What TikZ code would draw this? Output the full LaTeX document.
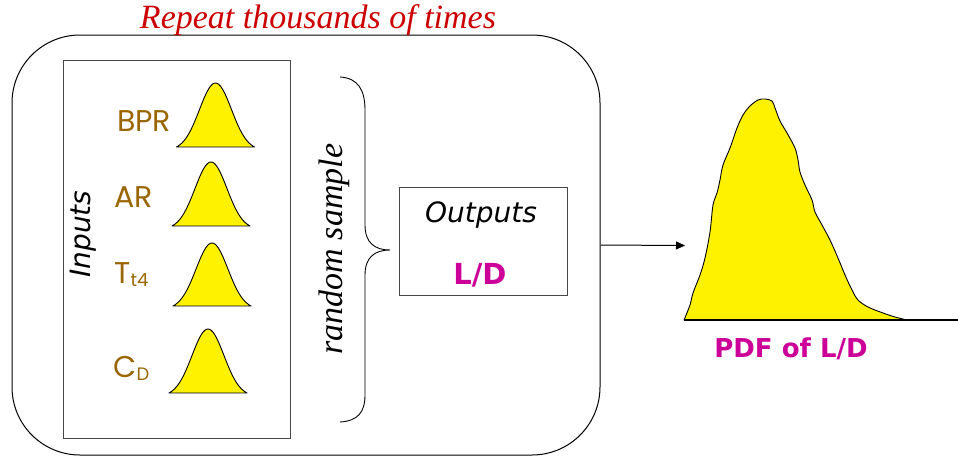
\documentclass[tikz,border=0pt]{standalone}
\usepackage{fontspec}
\usetikzlibrary{arrows.meta}
\newfontfamily\labelfont{Poppins}
\newfontfamily\verdfont{DejaVu Sans}
\newfontfamily\seriffont{Liberation Serif}
\definecolor{inbrown}{RGB}{153,102,0}
\definecolor{ldmagenta}{RGB}{204,0,153}
\definecolor{titlered}{RGB}{204,0,0}
\definecolor{boxgray}{RGB}{70,70,70}
% bell-shaped density: centre x, base y, height
\newcommand\bellcurve[3]{%
  \draw[bell] plot[domain=-39:39,samples=60,smooth]
    ({#1+\x},{#2-#3*(exp(-\x*\x/512)-0.051)/0.949}) -- cycle;}
\begin{document}
\begin{tikzpicture}[x=1pt,y=-1pt,
  bell/.style={draw=black,fill=yellow,line width=0.9pt,line join=round},
  frame/.style={draw=black,line width=1pt},
  inlab/.style={text=inbrown,font=\labelfont\fontsize{30}{34}\selectfont,inner sep=0pt,anchor=base},
  ]
\useasboundingbox (0,0) rectangle (958,456);

% loop frame and title
\node[frame,rounded corners=68pt,minimum width=588pt,minimum height=420pt,inner sep=0pt]
  (loop) at (306,245) {};
\node[text=titlered,font=\seriffont\itshape\fontsize{34}{38}\selectfont,anchor=base,inner sep=0pt]
  (title) at (318,28) {Repeat thousands of times};

% input distributions
\node[draw=boxgray,line width=1pt,minimum width=227pt,minimum height=378pt,inner sep=0pt]
  (inputs) at (176.5,249.3) {};
\node[rotate=90,anchor=base,inner sep=0pt,font=\verdfont\itshape\fontsize{28}{32}\selectfont]
  (inlabel) at (90,234) {Inputs};

\node[inlab] (bpr) at (144,131.5) {BPR};
\node[inlab] (ar) at (134,207) {AR};
\node[inlab] (tt4) at (131.5,283) {T{\fontsize{18}{20}\selectfont\raisebox{-3pt}{t4}}};
\node[inlab] (cd) at (131.5,377) {C{\fontsize{18}{20}\selectfont\raisebox{-3pt}{D}}};

\bellcurve{215.5}{147}{64}
\bellcurve{211}{226}{64}
\bellcurve{212}{306}{63}
\bellcurve{208}{393}{64}

% sampling brace
\node[rotate=90,anchor=base,inner sep=0pt,font=\seriffont\itshape\fontsize{34}{38}\selectfont]
  (sample) at (342,249) {random sample};
\coordinate (bracetop) at (340,77);
\coordinate (bracetip) at (390,250);
\coordinate (bracebot) at (340,422);
\draw[line width=0.9pt] (bracetop) .. controls (358,78) and (365,90) .. (365,110)
  -- (365,225) .. controls (365,243) and (375,250) .. (bracetip)
  .. controls (375,250) and (365,257) .. (365,275)
  -- (365,395) .. controls (365,412) and (358,421) .. (bracebot);

% outputs
\node[draw=boxgray,line width=1pt,minimum width=168pt,minimum height=108pt,inner sep=0pt]
  (out) at (483,241) {};
\node[anchor=base,inner sep=0pt,font=\verdfont\itshape\fontsize{28}{32}\selectfont]
  (outlabel) at (481,222) {Outputs};
\node[anchor=base,inner sep=0pt,text=ldmagenta,font=\verdfont\bfseries\fontsize{29}{32}\selectfont]
  (ld) at (480,284) {L/D};

% resulting distribution
\coordinate (pdfin) at (685,245.5);
\draw[line width=1pt,-{Triangle[length=9pt,width=8pt]}] (loop.east) -- (pdfin);
\draw[bell] plot[smooth,tension=0.55] coordinates {
  (684,320) (690,305) (693,293) (700,275) (705,258) (710,232) (713,205) (717,193)
  (720,180) (723,165) (730,148) (737,128) (743,115) (750,106) (758,100) (765,99)
  (772,101) (775,108) (780,121) (787,133) (795,148) (798,160) (800,172) (805,185)
  (812,200) (815,212) (822,225) (830,240) (838,258) (845,275) (852,290) (858,300)
  (868,307) (883,313) (895,317) (907,320)} -- cycle;
\coordinate (axisl) at (684,320);
\coordinate (axisr) at (958,320);
\draw[line width=1.2pt] (axisl) -- (axisr);
\node[anchor=base,inner sep=0pt,text=ldmagenta,font=\verdfont\bfseries\fontsize{26}{30}\selectfont]
  (pdflabel) at (791,357) {PDF of L/D};
\end{tikzpicture}
\end{document}
